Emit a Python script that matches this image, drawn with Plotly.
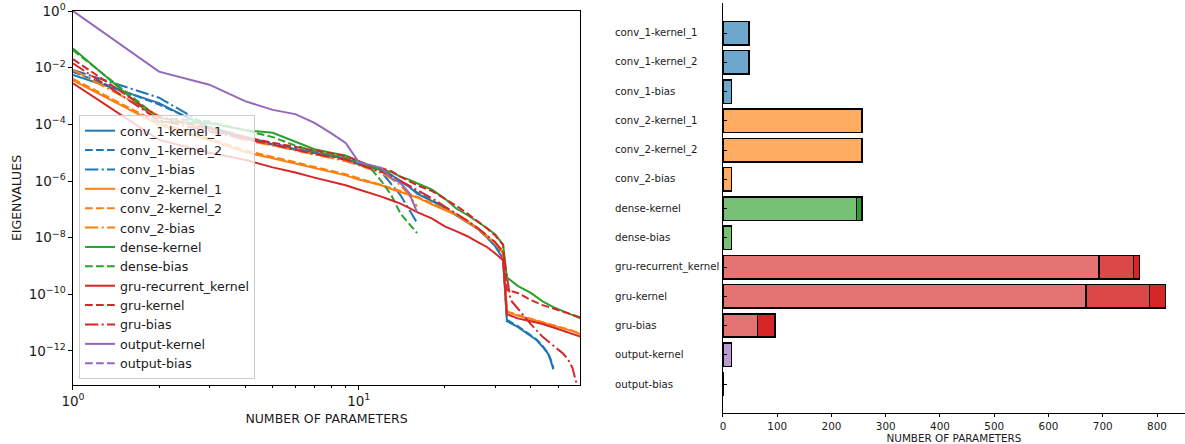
import numpy as np
import plotly.graph_objects as go

# ---------------------------------------------------------------------------
# Eigenvalue spectra per layer weight (log10 of eigenvalue at each
# parameter index n). Spectra longer than the visible window are listed
# up to n = 60 only.
# ---------------------------------------------------------------------------
N16 = list(range(1, 17))
N_LONG = N16 + [18, 20, 22, 24, 26, 28, 30, 32, 33, 36, 40, 44, 48, 52, 56, 60]
N_CONV1 = N16 + [18, 20, 22, 24, 26, 28, 30, 32, 33, 36, 40, 42, 44, 45, 46, 47, 48]
N_GRU_BIAS = N16 + [18, 20, 22, 24, 26, 28, 30, 32, 33, 34, 36, 40, 44, 48, 52, 54, 56, 58, 60]

conv_1_kernel_1 = [-2.26, -3.25, -4.15, -4.50, -4.72, -4.90, -5.00, -5.10, -5.20, -5.42, -5.52, -5.60,
                   -5.78, -6.02, -6.20, -6.45, -6.70, -6.95, -7.22, -7.45, -7.68, -7.98, -8.30, -8.75,
                   -10.95, -11.15, -11.48, -11.62, -11.85, -11.97, -12.10, -12.35, -12.65]
conv_1_kernel_2 = [-2.15, -3.30, -4.10, -4.45, -4.70, -4.88, -5.02, -5.12, -5.22, -5.40, -5.50, -5.62,
                   -5.80, -6.00, -6.18, -6.40, -6.68, -6.92, -7.20, -7.42, -7.66, -7.95, -8.25, -8.70,
                   -10.90, -11.12, -11.45, -11.60, -11.82, -11.95, -12.08, -12.30, -12.60]
conv_1_bias = [-2.08, -3.06, -4.08, -4.45, -4.68, -4.86, -5.00, -5.12, -5.22, -5.38, -5.50, -5.68,
               -6.10, -6.50, -7.00, -7.48]
conv_2_kernel_1 = [-2.45, -4.02, -4.55, -4.98, -5.20, -5.38, -5.55, -5.68, -5.80, -5.95, -6.05, -6.15,
                   -6.28, -6.38, -6.48, -6.58, -6.82, -7.02, -7.20, -7.45, -7.68, -7.95, -8.20, -8.55,
                   -10.62, -10.75, -10.88, -11.00, -11.10, -11.20, -11.30, -11.42]
conv_2_kernel_2 = [-2.40, -3.95, -4.50, -4.92, -5.15, -5.33, -5.50, -5.64, -5.76, -5.90, -6.02, -6.12,
                   -6.25, -6.35, -6.45, -6.55, -6.78, -6.98, -7.17, -7.42, -7.65, -7.92, -8.17, -8.50,
                   -10.60, -10.73, -10.86, -10.98, -11.08, -11.18, -11.28, -11.40]
conv_2_bias = [-2.08, -3.70, -4.20, -4.55, -4.75, -4.92, -5.05, -5.18, -5.30, -5.45, -5.58, -5.72,
               -5.92, -6.15, -6.50, -6.90]
dense_kernel = [-1.32, -3.91, -3.96, -4.20, -4.30, -4.60, -4.88, -5.00, -5.10, -5.30, -5.50, -5.60,
                -5.68, -5.85, -5.95, -6.08, -6.30, -6.62, -6.98, -7.20, -7.42, -7.65, -7.88, -8.25,
                -9.40, -9.70, -9.95, -10.25, -10.45, -10.60, -10.73, -10.86]
dense_bias = [-1.38, -3.78, -3.90, -4.20, -4.45, -4.75, -4.95, -5.08, -5.18, -5.30, -5.55, -6.00,
              -6.50, -7.15, -7.50, -7.84]
gru_recurrent_kernel = [-2.55, -4.55, -5.00, -5.25, -5.52, -5.70, -5.88, -6.02, -6.15, -6.30, -6.42, -6.55,
                        -6.68, -6.80, -6.95, -7.10, -7.32, -7.60, -7.78, -7.95, -8.15, -8.32, -8.55, -8.80,
                        -10.70, -10.85, -10.95, -11.05, -11.17, -11.28, -11.40, -11.50]
gru_kernel = [-1.70, -3.75, -4.15, -4.45, -4.65, -4.80, -4.92, -5.02, -5.12, -5.30, -5.45, -5.55,
              -5.65, -5.85, -6.00, -6.15, -6.35, -6.62, -6.88, -7.15, -7.40, -7.66, -7.92, -8.25,
              -9.85, -9.95, -10.20, -10.38, -10.50, -10.62, -10.72, -10.82]
gru_bias = [-1.85, -3.85, -4.25, -4.50, -4.72, -4.90, -5.05, -5.15, -5.25, -5.42, -5.55, -5.68,
            -5.82, -6.00, -6.15, -6.32, -6.60, -6.90, -7.15, -7.40, -7.65, -7.90, -8.15, -8.50,
            -9.40, -10.20, -10.50, -11.05, -11.50, -11.80, -12.10, -12.30, -12.60, -13.20, -13.80]
output_kernel = [0.00, -2.14, -2.60, -3.18, -3.49, -3.64, -3.95, -4.31, -4.66, -5.33, -5.44, -5.54,
                 -5.90, -6.07, -6.42, -7.10]
output_bias = [-4.00]

# ---------------------------------------------------------------------------
# Parameter counts per layer weight, split into stacked segments
# ---------------------------------------------------------------------------
LAYERS = ["conv_1-kernel_1", "conv_1-kernel_2", "conv_1-bias",
          "conv_2-kernel_1", "conv_2-kernel_2", "conv_2-bias",
          "dense-kernel", "dense-bias",
          "gru-recurrent_kernel", "gru-kernel", "gru-bias",
          "output-kernel", "output-bias"]
PARAMS_SEG1 = [48, 48, 16, 256, 256, 16, 246, 16, 693, 669, 64, 16, 1]
PARAMS_SEG2 = [None, None, None, None, None, None, 10, None, 64, 117, 32, None, None]
PARAMS_SEG3 = [None, None, None, None, None, None, None, None, 11, 30, None, None, None]
X_TICKS_BAR = [0, 100, 200, 300, 400, 500, 600, 700, 800]

BLUE, ORANGE, GREEN, RED, PURPLE = "#1f77b4", "#ff7f0e", "#2ca02c", "#d62728", "#9467bd"
LAYER_COLOR = [BLUE, BLUE, BLUE, ORANGE, ORANGE, ORANGE, GREEN, GREEN, RED, RED, RED, PURPLE, PURPLE]

FONT = "DejaVu Sans"
INK = "#1a1a1a"
LW = 2.0
DASH = "7.7px,3.3px"
DASHDOT = "13.3px,3.3px,2.1px,3.3px"


def tint(hex_color, alpha):
    """Blend a colour with white, like a translucent fill on a white page."""
    h = hex_color.lstrip("#")
    r, g, b = (int(h[i:i + 2], 16) for i in (0, 2, 4))
    mix = lambda c: round(c * alpha + 255 * (1 - alpha))
    return f"rgb({mix(r)},{mix(g)},{mix(b)})"


fig = go.Figure()

spectra = [
    ("conv_1-kernel_1", N_CONV1, conv_1_kernel_1, BLUE, "solid"),
    ("conv_1-kernel_2", N_CONV1, conv_1_kernel_2, BLUE, DASH),
    ("conv_1-bias", N16, conv_1_bias, BLUE, DASHDOT),
    ("conv_2-kernel_1", N_LONG, conv_2_kernel_1, ORANGE, "solid"),
    ("conv_2-kernel_2", N_LONG, conv_2_kernel_2, ORANGE, DASH),
    ("conv_2-bias", N16, conv_2_bias, ORANGE, DASHDOT),
    ("dense-kernel", N_LONG, dense_kernel, GREEN, "solid"),
    ("dense-bias", N16, dense_bias, GREEN, DASH),
    ("gru-recurrent_kernel", N_LONG, gru_recurrent_kernel, RED, "solid"),
    ("gru-kernel", N_LONG, gru_kernel, RED, DASH),
    ("gru-bias", N_GRU_BIAS, gru_bias, RED, DASHDOT),
    ("output-kernel", N16, output_kernel, PURPLE, "solid"),
    ("output-bias", [1], output_bias, PURPLE, DASH),
]
for name, n, logv, color, dash in spectra:
    fig.add_trace(go.Scatter(
        x=n, y=10.0 ** np.asarray(logv), name=name, mode="lines",
        line=dict(color=color, width=LW, dash=dash),
        xaxis="x", yaxis="y", hoverinfo="skip",
    ))

# stacked horizontal bars of parameter counts
seg1_colors = [tint(c, 0.65) for c in LAYER_COLOR]
seg2_colors = [tint(c, 1.0) if i in (6, 10) else tint(c, 0.85) for i, c in enumerate(LAYER_COLOR)]
seg3_colors = [tint(c, 1.0) for c in LAYER_COLOR]
for vals, cols in ((PARAMS_SEG1, seg1_colors), (PARAMS_SEG2, seg2_colors), (PARAMS_SEG3, seg3_colors)):
    fig.add_trace(go.Bar(
        x=vals, y=LAYERS, orientation="h", width=0.8,
        marker=dict(color=cols, line=dict(color="black", width=1.5)),
        xaxis="x2", yaxis="y2", showlegend=False, hoverinfo="skip",
    ))

axis_common = dict(showline=True, linecolor="black", linewidth=1.1, showgrid=False, zeroline=False,
                   tickcolor="black", tickwidth=1.1, automargin=False)

y_exps = [0, -2, -4, -6, -8, -10, -12]
y_ticktext = ["10<sup>" + str(e).replace("-", "\u2212") + "</sup>" for e in y_exps]

fig.update_layout(
    width=1185, height=444,
    margin=dict(l=0, r=0, t=0, b=0),
    paper_bgcolor="white", plot_bgcolor="white",
    font=dict(family=FONT, color=INK),
    barmode="stack",
    showlegend=True,
    xaxis=dict(
        **axis_common, type="log", domain=[0.0616, 0.4895], anchor="y",
        range=[0, np.log10(59.5)], mirror=True,
        ticks="outside", ticklen=3.5,
        tickvals=[1, 10], ticktext=["10<sup>0</sup>", "10<sup>1</sup>"],
        tickfont=dict(size=13.5),
        minor=dict(tickvals=[2, 3, 4, 5, 6, 7, 8, 9, 20, 30, 40, 50], ticks="outside",
                   ticklen=2.2, tickcolor="black", tickwidth=0.8, showgrid=False),
        title=dict(text="NUMBER OF PARAMETERS", font=dict(size=12.5), standoff=6),
    ),
    yaxis=dict(
        **axis_common, type="log", domain=[0.1329, 0.9752], anchor="x",
        range=[-13.2, 0], mirror=True,
        ticks="outside", ticklen=3.5,
        tickvals=[10.0 ** e for e in y_exps], ticktext=y_ticktext,
        tickfont=dict(size=13.5),
        title=dict(text="EIGENVALUES", font=dict(size=12.5), standoff=4),
    ),
    xaxis2=dict(
        **axis_common, domain=[0.6101, 1.0], anchor="y2", range=[0, 851.6],
        ticks="outside", ticklen=3.5, tickvals=X_TICKS_BAR,
        tickfont=dict(size=10.4),
        title=dict(text="NUMBER OF PARAMETERS", font=dict(size=10.4), standoff=2),
    ),
    xaxis3=dict(
        **axis_common, domain=[0.6101, 1.0], anchor="y2", overlaying="x2", matches="x2",
        side="top", ticks="inside", ticklen=3.5, tickvals=X_TICKS_BAR, showticklabels=False,
    ),
    yaxis2=dict(
        **axis_common, domain=[0.0705, 0.9932], anchor="x2", type="category",
        categoryorder="array", categoryarray=LAYERS, range=[12.98, -1.03],
        ticks="inside", ticklen=3.5, showticklabels=False,
    ),
    legend=dict(
        x=0.0667, y=0.1464, xanchor="left", yanchor="bottom", xref="paper", yref="paper",
        bgcolor="rgba(255,255,255,0.8)", bordercolor="#cccccc", borderwidth=1,
        font=dict(size=12.6, family=FONT, color=INK), itemwidth=30, tracegroupgap=0,
        traceorder="normal",
    ),
)

# left-aligned layer names beside the bar chart
for layer in LAYERS:
    fig.add_annotation(
        x=-0.238, xref="x2 domain", y=layer, yref="y2", text=layer, showarrow=False,
        xanchor="left", yanchor="middle", font=dict(size=10.2, family=FONT, color=INK),
    )

fig.write_html("out.html")
